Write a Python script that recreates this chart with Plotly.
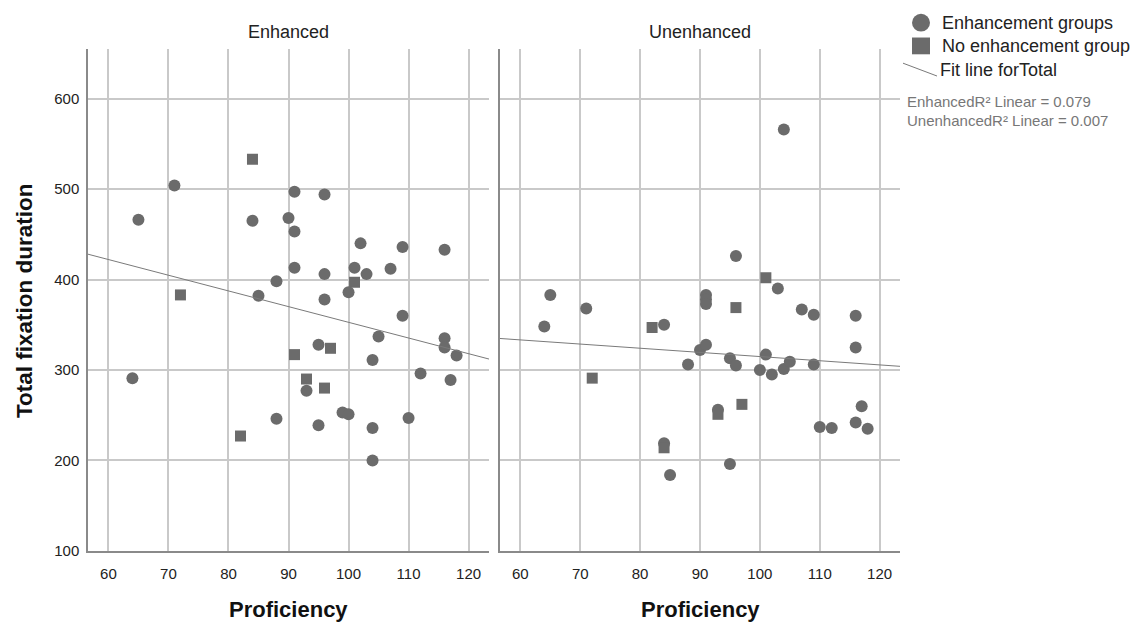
import numpy as np
import plotly.graph_objects as go

# ---- data: Proficiency (x) vs Total fixation duration (y) ----
# Enhanced panel
enh_circle_x = [65, 71, 84, 91, 96, 90, 91, 102, 109, 116, 91, 96, 101, 103, 107, 88, 85, 100, 96,
                109, 105, 116, 116, 118, 95, 104, 64, 112, 117, 93, 99, 100, 88, 95, 104, 110, 104]
enh_circle_y = [466, 504, 465, 497, 494, 468, 453, 440, 436, 433, 413, 406, 413, 406, 412, 398, 382, 386, 378,
                360, 337, 335, 325, 316, 328, 311, 291, 296, 289, 277, 253, 251, 246, 239, 236, 247, 200]
enh_square_x = [84, 101, 72, 97, 91, 93, 96, 82]
enh_square_y = [533, 397, 383, 324, 317, 290, 280, 227]

# Unenhanced panel
unenh_circle_x = [104, 96, 103, 65, 91, 91, 91, 71, 64, 84, 107, 109, 116, 116, 90, 91, 95, 96, 101,
                  88, 100, 102, 104, 105, 109, 93, 84, 117, 110, 112, 116, 118, 95, 85]
unenh_circle_y = [566, 426, 390, 383, 383, 378, 373, 368, 348, 350, 367, 361, 360, 325, 322, 328, 313, 305, 317,
                  306, 300, 295, 301, 309, 306, 256, 219, 260, 237, 236, 242, 235, 196, 184]
unenh_square_x = [101, 82, 96, 72, 97, 93, 84]
unenh_square_y = [402, 347, 369, 291, 262, 251, 214]

x_ticks = [60, 70, 80, 90, 100, 110, 120]
y_ticks = [100, 200, 300, 400, 500, 600]
panel_titles = ["Enhanced", "Unenhanced"]
legend_labels = ["Enhancement groups", "No enhancement group", "Fit line forTotal"]
r2_labels = ["EnhancedR\u00b2 Linear = 0.079", "UnenhancedR\u00b2 Linear = 0.007"]

X_RANGE = [56.6, 123.4]
Y_RANGE = [100, 654.5]

MARK = "#6b6b6b"
GRID = "#c9c9c9"
AXIS = "#8a8a8a"
TXT = "#222222"
FONT = "Liberation Sans, Arial, sans-serif"

W, H = 1138, 628
fig = go.Figure()

panels = [
    (enh_circle_x, enh_circle_y, enh_square_x, enh_square_y, "x", "y"),
    (unenh_circle_x, unenh_circle_y, unenh_square_x, unenh_square_y, "x2", "y2"),
]

for cx, cy, sx, sy, xa, ya in panels:
    fig.add_trace(go.Scatter(x=cx, y=cy, mode="markers", xaxis=xa, yaxis=ya,
                             marker=dict(symbol="circle", size=12, color=MARK), showlegend=False))
    fig.add_trace(go.Scatter(x=sx, y=sy, mode="markers", xaxis=xa, yaxis=ya,
                             marker=dict(symbol="square", size=11, color=MARK), showlegend=False))
    # least-squares fit over all points of the panel
    allx = np.array(cx + sx, dtype=float)
    ally = np.array(cy + sy, dtype=float)
    slope, icpt = np.polyfit(allx, ally, 1)
    lx = np.array(X_RANGE)
    fig.add_trace(go.Scatter(x=lx, y=slope * lx + icpt, mode="lines", xaxis=xa, yaxis=ya,
                             line=dict(color="#7a7a7a", width=1), showlegend=False, hoverinfo="skip"))

xdomains = [[88 / W, 489 / W], [500 / W, 900 / W]]
ydomain = [1 - 558 / H, 1 - 50 / H]

common_x = dict(range=X_RANGE, tickvals=x_ticks, showgrid=True, gridcolor=GRID, gridwidth=1.5,
                zeroline=False, showline=True, linecolor=AXIS, linewidth=1.5, ticks="",
                ticklabelstandoff=8,
                tickfont=dict(family=FONT, size=15, color=TXT), fixedrange=True)
common_y = dict(range=Y_RANGE, tickvals=y_ticks, showgrid=True, gridcolor=GRID, gridwidth=1.5,
                zeroline=False, showline=True, linecolor=AXIS, linewidth=1.5, ticks="",
                ticklabelstandoff=4,
                tickfont=dict(family=FONT, size=15, color=TXT), fixedrange=True, domain=ydomain)

fig.update_layout(
    width=W, height=H,
    margin=dict(l=0, r=0, t=0, b=0),
    paper_bgcolor="white", plot_bgcolor="white",
    showlegend=False,
    xaxis=dict(domain=xdomains[0], anchor="y", **common_x),
    xaxis2=dict(domain=xdomains[1], anchor="y2", **common_x),
    yaxis=dict(anchor="x", **common_y),
    yaxis2=dict(anchor="x2", showticklabels=False, **common_y),
)

def px(xp, yp):
    return xp / W, 1 - yp / H

# panel titles and axis titles
for dom, t in zip(xdomains, panel_titles):
    cx = (dom[0] + dom[1]) / 2
    fig.add_annotation(x=cx, y=1 - 32 / H, xref="paper", yref="paper",
                       xanchor="center", yanchor="middle",
                       text=t, showarrow=False, font=dict(family=FONT, size=18, color=TXT))
    fig.add_annotation(x=cx, y=1 - 617 / H, xref="paper", yref="paper",
                       xanchor="center", yanchor="middle",
                       text="<b>Proficiency</b>", showarrow=False,
                       font=dict(family=FONT, size=22, color="#111"))
fig.add_annotation(x=24 / W, y=1 - 305 / H, xref="paper", yref="paper", xanchor="center",
                   yanchor="middle", textangle=-90, text="<b>Total fixation duration</b>",
                   showarrow=False, font=dict(family=FONT, size=22.5, color="#111"))

# legend block on the right
x0, y0 = px(912, 32)
x1, y1 = px(930, 14)
fig.add_shape(type="circle", xref="paper", yref="paper", x0=x0, x1=x1, y0=y0, y1=y1,
              fillcolor=MARK, line=dict(width=0))
x0, y0 = px(912, 55)
x1, y1 = px(930, 38)
fig.add_shape(type="rect", xref="paper", yref="paper", x0=x0, x1=x1, y0=y0, y1=y1,
              fillcolor=MARK, line=dict(width=0))
x0, y0 = px(903, 64)
x1, y1 = px(937, 77)
fig.add_shape(type="line", xref="paper", yref="paper", x0=x0, x1=x1, y0=y0, y1=y1,
              line=dict(color="#7a7a7a", width=1))
for (xx, yy), t in zip([(940, 23), (940, 47), (938, 71)], legend_labels):
    ax, ay = px(xx, yy)
    fig.add_annotation(x=ax, y=ay, xref="paper", yref="paper", xanchor="left", yanchor="middle",
                       text=t, showarrow=False, font=dict(family=FONT, size=18, color=TXT))
for yy, t in zip([103, 122], r2_labels):
    ax, ay = px(905, yy)
    fig.add_annotation(x=ax, y=ay, xref="paper", yref="paper", xanchor="left", yanchor="middle",
                       text=t, showarrow=False, font=dict(family=FONT, size=15, color="#777"))

fig.write_html("out.html")
